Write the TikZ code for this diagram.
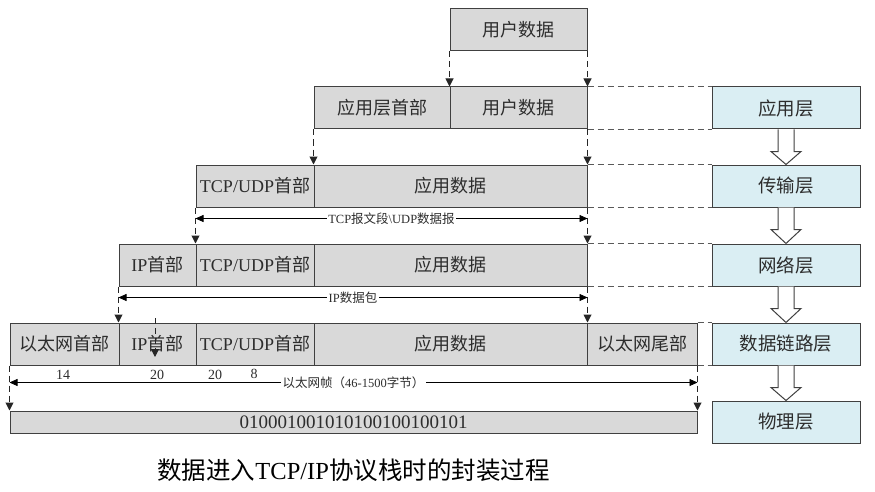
\documentclass[tikz,border=0pt]{standalone}
\usepackage{fontspec}
\setmainfont{Liberation Serif}
\newfontfamily\cjk{Noto Sans CJK SC}
\usetikzlibrary{arrows.meta,calc}
\definecolor{cellfill}{RGB}{217,217,217}
\definecolor{layerfill}{RGB}{218,238,243}
\definecolor{edge}{RGB}{64,64,64}
\definecolor{txt}{RGB}{45,45,45}
\begin{document}
\begin{tikzpicture}[x=1pt,y=-1pt,
 cell/.style={draw=edge, fill=cellfill, line width=1pt, minimum height=42pt, inner sep=0pt, text=txt, font=\fontsize{18}{20}\selectfont},
 layer/.style={draw=edge, fill=layerfill, line width=1pt, minimum width=148pt, minimum height=42pt, inner sep=0pt, text=txt, font=\cjk\fontsize{18.5}{20}\selectfont},
 dasharrow/.style={draw=black!85, line width=1pt, dash pattern=on 6pt off 4pt, -{Triangle[length=8pt,width=8pt]}},
 guide/.style={draw=black!65, line width=1pt, dash pattern=on 6pt off 4pt},
 dimline/.style={draw=black, line width=0.8pt, {Triangle[length=8pt,width=7pt]}-{Triangle[length=8pt,width=7pt]}},
 dimlabel/.style={fill=white, inner sep=1.5pt, font=\fontsize{12.5}{14}\selectfont, text=txt},
 numlabel/.style={font=\fontsize{14}{15}\selectfont, text=txt, inner sep=0pt},
 hollow/.style={draw=edge, fill=white, line width=1pt, line join=miter},
]
\useasboundingbox (0,0) rectangle (875,492);

% Row 1
\node[cell, minimum width=137pt] (ud1) at (518.5,29.5) {\cjk 用户数据};
% Row 2
\node[cell, minimum width=136pt] (ah2) at (382,108) {\cjk 应用层首部};
\node[cell, minimum width=137pt] (ud2) at (518.5,108) {\cjk 用户数据};
% Row 3
\node[cell, minimum width=118pt] (th3) at (255,186) {TCP/UDP{\cjk 首部}};
\node[cell, minimum width=273pt] (ad3) at (450.5,186) {\cjk 应用数据};
% Row 4
\node[cell, minimum width=77pt] (ih4) at (157.5,265) {IP{\cjk 首部}};
\node[cell, minimum width=118pt] (th4) at (255,265) {TCP/UDP{\cjk 首部}};
\node[cell, minimum width=273pt] (ad4) at (450.5,265) {\cjk 应用数据};
% Row 5
\node[cell, minimum width=109pt] (eh5) at (64.5,344) {\cjk 以太网首部};
\node[cell, minimum width=77pt] (ih5) at (157.5,344) {IP{\cjk 首部}};
\node[cell, minimum width=118pt] (th5) at (255,344) {TCP/UDP{\cjk 首部}};
\node[cell, minimum width=273pt] (ad5) at (450.5,344) {\cjk 应用数据};
\node[cell, minimum width=110pt] (et5) at (642,344) {\cjk 以太网尾部};
% Row 6
\node[cell, minimum width=687pt, minimum height=22pt, font=\fontsize{19}{20}\selectfont] (bin) at (353.5,422) {010001001010100100100101};

% Layers
\node[layer] (L1) at (786,108) {应用层};
\node[layer] (L2) at (786,186) {传输层};
\node[layer] (L3) at (786,265) {网络层};
\node[layer] (L4) at (786,344) {数据链路层};
\node[layer] (L5) at (786,422) {物理层};

% guides to layers
\draw[guide] (ud2.north east) -- (L1.north west);
\draw[guide] (ud2.south east) -- (L1.south west);
\draw[guide] (ad3.north east) -- (L2.north west);
\draw[guide] (ad3.south east) -- (L2.south west);
\draw[guide] (ad4.north east) -- (L3.north west);
\draw[guide] (ad4.south east) -- (L3.south west);
\draw[guide] (et5.north east) -- (L4.north west);
\draw[guide] (et5.south east) -- (L4.south west);

% encapsulation dashed arrows
\draw[dasharrow] (ud1.south west) -- (ud2.north west);
\draw[dasharrow] (ud1.south east) -- (ud2.north east);
\draw[dasharrow] (ah2.south west) -- (ad3.north west);
\draw[dasharrow] (ud2.south east) -- (ad3.north east);
\draw[dasharrow] (th3.south west) -- (th4.north west);
\draw[dasharrow] (ad3.south east) -- (ad4.north east);
\draw[dasharrow] (ih4.south west) -- (ih5.north west);
\draw[dasharrow] (ad4.south east) -- (ad5.north east);
\draw[dasharrow] (eh5.south west) -- (bin.north west);
\draw[dasharrow] (et5.south east) -- (bin.north east);

% stray arrow in IP header cell
\coordinate (sa) at (155,318);
\coordinate (sb) at (155,357);
\draw[dasharrow] (sa) -- (sb);

% dimension lines
\draw[dimline] ([yshift=-11pt]th3.south west) -- ([yshift=-11pt]ad3.south east)
  node[dimlabel, midway] (d1) {TCP{\cjk 报文段}\textbackslash UDP{\cjk 数据报}};
\draw[dimline] ([yshift=-11pt]ih4.south west) -- ([yshift=-11pt]ad4.south east)
  node[dimlabel, midway] (d2) {IP{\cjk 数据包}};
\draw[dimline] ([yshift=-17pt]eh5.south west) -- ([yshift=-17pt]et5.south east)
  node[dimlabel, midway] (d3) {{\cjk 以太网帧（}46-1500{\cjk 字节）}};

% byte counts
\node[numlabel] (n1) at (63,375) {14};
\node[numlabel] (n2) at (157,375) {20};
\node[numlabel] (n3) at (215,375) {20};
\node[numlabel] (n4) at (254,374) {8};

% hollow arrows between layers
\foreach \a/\b in {L1/L2,L2/L3,L3/L4,L4/L5}{
  \draw[hollow] ([xshift=-8pt]\a.south) -- ([xshift=-8pt,yshift=-22pt]\a.south)
    -- ([xshift=-15pt,yshift=-22pt]\a.south) -- (\b.north)
    -- ([xshift=15pt,yshift=-22pt]\a.south) -- ([xshift=8pt,yshift=-22pt]\a.south)
    -- ([xshift=8pt]\a.south);
}

% title
\node[font=\cjk\fontsize{24.5}{27}\selectfont] (title) at (353.5,470) {数据进入{\rmfamily TCP/IP}协议栈时的封装过程};
\end{tikzpicture}
\end{document}
